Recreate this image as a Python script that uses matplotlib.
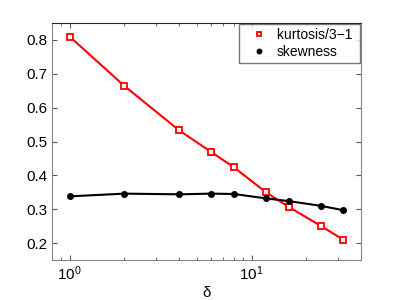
import numpy as np
import matplotlib
matplotlib.use("Agg")
import matplotlib.pyplot as plt
from matplotlib.legend_handler import HandlerLine2D

plt.rcParams['font.family'] = ['Liberation Sans', 'DejaVu Sans']

delta = [1, 2, 4, 6, 8, 12, 16, 24, 32]
kurtosis = [0.81, 0.664, 0.533, 0.469, 0.424, 0.35, 0.307, 0.251, 0.21]
skewness = [0.338, 0.346, 0.344, 0.346, 0.345, 0.332, 0.324, 0.31, 0.297]


# marker a bit to the right inside the handle box, like MATLAB legends
class ShiftedMarker(HandlerLine2D):
    def get_xdata(self, legend, xdescent, ydescent, width, height, fontsize):
        xd, xm = super().get_xdata(legend, xdescent, ydescent, width, height, fontsize)
        return xd, [-xdescent + 0.68 * width]


fig = plt.figure(figsize=(3.99, 3.0), dpi=100)
ax = fig.add_axes([52 / 399, 40 / 300, 309 / 399, 237 / 300])

ax.plot(delta, kurtosis, color='red', lw=1.5, marker='s', ms=4,
        mfc='white', mec='red', mew=1.3, label='kurtosis/3−1 ')
ax.plot(delta, skewness, color='black', lw=1.5, marker='o', ms=4,
        mfc='black', mec='black', label='skewness')

ax.set_xscale('log')
ax.set_xlim(0.8, 40)
ax.set_ylim(0.15, 0.85)
ax.set_yticks([0.2, 0.3, 0.4, 0.5, 0.6, 0.7, 0.8])
ax.set_xlabel('δ', fontsize=11, labelpad=2)

ax.tick_params(which='both', direction='in', top=True, right=True,
               labelsize=11, color='#555555')
ax.tick_params(which='major', length=3.5)
ax.tick_params(which='minor', length=2)
for s in ['left', 'right', 'bottom']:
    ax.spines[s].set_color('#888888')
ax.spines['top'].set_color('#222222')

leg = ax.legend(loc='upper right', fontsize=10, frameon=True, fancybox=False,
                handlelength=2.2, handletextpad=0.2, borderpad=0.3,
                labelspacing=0.22, borderaxespad=0.05, markerscale=0.8,
                handler_map={plt.Line2D: ShiftedMarker()})
leg.get_frame().set_edgecolor('#555555')
leg.get_frame().set_linewidth(1.0)
for h in leg.get_lines():
    h.set_linestyle('none')

fig.savefig('out.png', dpi=100)
